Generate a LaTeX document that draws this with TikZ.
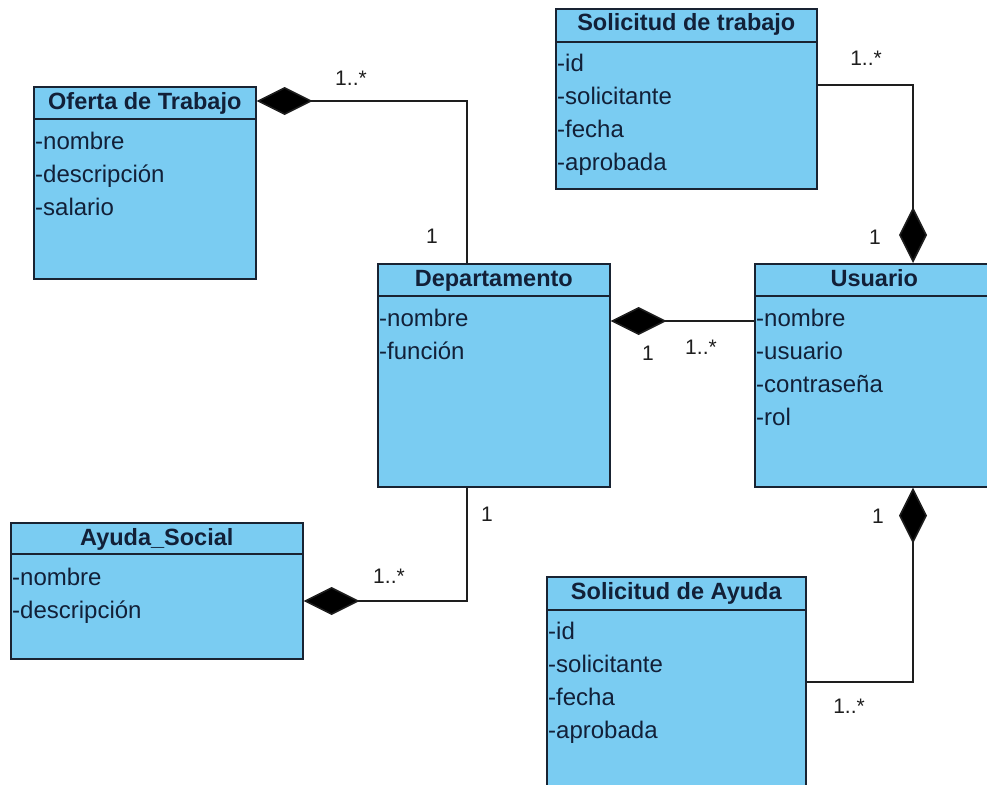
\documentclass[tikz,border=0pt]{standalone}
\usepackage{fontspec}
\setmainfont{Liberation Sans}
\usetikzlibrary{arrows.meta,calc}
\definecolor{classfill}{RGB}{122,204,242}
\definecolor{classline}{RGB}{25,35,50}
\definecolor{classtext}{RGB}{18,32,56}
\definecolor{linkcol}{RGB}{30,30,30}
\tikzset{
  classbox/.style={draw=classline, fill=classfill, line width=1.6pt, anchor=north west, inner sep=0pt},
  classsep/.style={draw=classline, line width=1.6pt},
  classname/.style={font=\bfseries\fontsize{23.5}{27}\selectfont, text=classtext, anchor=base, inner sep=0pt},
  attr/.style={font=\fontsize{24}{28}\selectfont, text=classtext, anchor=base west, inner sep=0pt},
  mult/.style={font=\fontsize{21}{24}\selectfont, text=linkcol, inner sep=0pt},
  comp/.style={draw=linkcol, line width=1.6pt, -{Diamond[length=56pt,width=28pt,fill=black]}},
}
\begin{document}
\begin{tikzpicture}[x=1pt,y=-1pt]
\useasboundingbox (0,0) rectangle (987,784);
\clip (0,0) rectangle (987,784);
\fill[white] (0,0) rectangle (987,784);

% ---- Oferta de Trabajo
\node[classbox, minimum width=222pt, minimum height=192pt] (oferta) at (33,86) {};
\draw[classsep] ($(oferta.north west)+(0,33)$) -- ($(oferta.north east)+(0,33)$);
\node[classname] (oferta-t) at ($(oferta.north)+(0,23)$) {Oferta de Trabajo};
\node[attr] (oferta-a1) at ($(oferta.north west)+(2,63)$) {-nombre};
\node[attr] (oferta-a2) at ($(oferta.north west)+(2,96)$) {-descripción};
\node[attr] (oferta-a3) at ($(oferta.north west)+(2,129)$) {-salario};

% ---- Solicitud de trabajo
\node[classbox, minimum width=261pt, minimum height=180pt] (solt) at (555,8) {};
\draw[classsep] ($(solt.north west)+(0,34)$) -- ($(solt.north east)+(0,34)$);
\node[classname] (solt-t) at ($(solt.north)+(0,23)$) {Solicitud de trabajo};
\node[attr] (solt-a1) at ($(solt.north west)+(2,63)$) {-id};
\node[attr] (solt-a2) at ($(solt.north west)+(2,96)$) {-solicitante};
\node[attr] (solt-a3) at ($(solt.north west)+(2,129)$) {-fecha};
\node[attr] (solt-a4) at ($(solt.north west)+(2,162)$) {-aprobada};

% ---- Departamento
\node[classbox, minimum width=232pt, minimum height=223pt] (dep) at (377,263) {};
\draw[classsep] ($(dep.north west)+(0,33)$) -- ($(dep.north east)+(0,33)$);
\node[classname] (dep-t) at ($(dep.north)+(0,23)$) {Departamento};
\node[attr] (dep-a1) at ($(dep.north west)+(2,63)$) {-nombre};
\node[attr] (dep-a2) at ($(dep.north west)+(2,96)$) {-función};

% ---- Usuario
\node[classbox, minimum width=239pt, minimum height=223pt] (usu) at (754,263) {};
\draw[classsep] ($(usu.north west)+(0,33)$) -- ($(usu.north east)+(0,33)$);
\node[classname] (usu-t) at ($(usu.north)+(0,23)$) {Usuario};
\node[attr] (usu-a1) at ($(usu.north west)+(2,63)$) {-nombre};
\node[attr] (usu-a2) at ($(usu.north west)+(2,96)$) {-usuario};
\node[attr] (usu-a3) at ($(usu.north west)+(2,129)$) {-contraseña};
\node[attr] (usu-a4) at ($(usu.north west)+(2,162)$) {-rol};

% ---- Ayuda_Social
\node[classbox, minimum width=292pt, minimum height=136pt] (ayuda) at (10,522) {};
\draw[classsep] ($(ayuda.north west)+(0,32)$) -- ($(ayuda.north east)+(0,32)$);
\node[classname] (ayuda-t) at ($(ayuda.north)+(0,23)$) {Ayuda\_Social};
\node[attr] (ayuda-a1) at ($(ayuda.north west)+(2,63)$) {-nombre};
\node[attr] (ayuda-a2) at ($(ayuda.north west)+(2,96)$) {-descripción};

% ---- Solicitud de Ayuda
\node[classbox, minimum width=259pt, minimum height=220pt] (sola) at (546,576) {};
\draw[classsep] ($(sola.north west)+(0,34)$) -- ($(sola.north east)+(0,34)$);
\node[classname] (sola-t) at ($(sola.north)+(0,23)$) {Solicitud de Ayuda};
\node[attr] (sola-a1) at ($(sola.north west)+(2,63)$) {-id};
\node[attr] (sola-a2) at ($(sola.north west)+(2,96)$) {-solicitante};
\node[attr] (sola-a3) at ($(sola.north west)+(2,129)$) {-fecha};
\node[attr] (sola-a4) at ($(sola.north west)+(2,162)$) {-aprobada};

% ---- compositions
\draw[comp] ($(dep.north west)+(90,0)$) |- ($(oferta.north east)+(0,15)$);
\draw[comp] ($(solt.north east)+(0,77)$) -| ($(usu.north west)+(159,0)$);
\draw[comp] ($(usu.north west)+(0,58)$) -- ($(dep.north east)+(0,58)$);
\draw[comp] ($(dep.south west)+(90,0)$) |- ($(ayuda.north east)+(0,79)$);
\draw[comp] ($(sola.north east)+(0,106)$) -| ($(usu.south west)+(159,0)$);

% ---- multiplicities
\node[mult] (m1a) at (351,78) {1..*};
\node[mult] (m1b) at (432,236) {1};
\node[mult] (m2a) at (866,58) {1..*};
\node[mult] (m2b) at (875,237) {1};
\node[mult] (m3a) at (648,353) {1};
\node[mult] (m3b) at (701,347) {1..*};
\node[mult] (m4a) at (487,514) {1};
\node[mult] (m4b) at (389,576) {1..*};
\node[mult] (m5a) at (878,516) {1};
\node[mult] (m5b) at (849,706) {1..*};
\end{tikzpicture}
\end{document}
